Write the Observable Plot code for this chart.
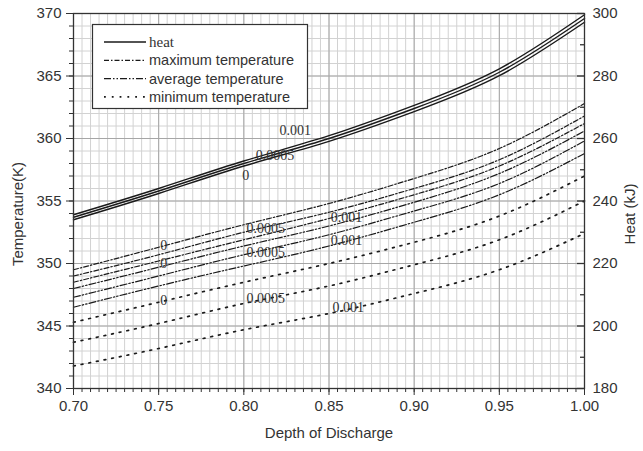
<!DOCTYPE html>
<html><head><meta charset="utf-8">
<script src="https://cdn.jsdelivr.net/npm/d3@7"></script>
<script src="https://cdn.jsdelivr.net/npm/@observablehq/plot@0.6"></script>
<style>
html,body{margin:0;padding:0;background:#fff;}
#chart{width:643px;height:451px;overflow:hidden;}
</style></head><body><div id="chart"></div>
<script>
// ---------- data ----------
const dod = [0.70, 0.75, 0.80, 0.85, 0.90, 0.95, 1.00];

// heat (kJ), one curve per coefficient
const heat0     = [234.0, 242.4, 251.2, 259.1, 268.6, 280.1, 297.2];
const heat0005  = [234.8, 243.2, 252.0, 260.0, 269.6, 281.2, 298.4];
const heat001   = [235.6, 244.0, 252.8, 260.9, 270.6, 282.3, 299.6];

// temperatures (K)
const maxT0     = [349.5, 351.3, 353.1, 354.8, 356.8, 359.2, 362.8];
const maxT0005  = [349.0, 350.7, 352.5, 354.1, 356.0, 358.3, 361.8];
const maxT001   = [348.5, 350.2, 351.9, 353.6, 355.5, 357.8, 361.2];
const avgT0     = [348.0, 349.7, 351.4, 353.0, 354.9, 357.2, 360.6];
const avgT0005  = [347.3, 349.0, 350.7, 352.3, 354.2, 356.4, 359.8];
const avgT001   = [346.5, 348.2, 349.8, 351.4, 353.3, 355.5, 358.8];
const minT0     = [345.3, 346.9, 348.5, 350.0, 351.7, 353.8, 357.0];
const minT0005  = [343.7, 345.2, 346.8, 348.2, 349.9, 351.9, 355.0];
const minT001   = [341.8, 343.2, 344.7, 346.0, 347.6, 349.5, 352.4];

// ticks
const xTicks = [0.70, 0.75, 0.80, 0.85, 0.90, 0.95, 1.00];
const tempTicks = [340, 345, 350, 355, 360, 365, 370];
const heatTicks = [180, 200, 220, 240, 260, 280, 300];
const heatMinorTicks = [190, 210, 230, 250, 270, 290];

// curve annotations (text, DoD, temperature)
const heatLabelText = ["0.001", "0.0005", "0"];
const heatLabelX    = [0.821, 0.807, 0.799];
const heatLabelY    = [360.6, 358.6, 357.0];
const tempLabelText = ["0", "0", "0", "0.0005", "0.0005", "0.0005", "0.001", "0.001", "0.001"];
const tempLabelX    = [0.751, 0.751, 0.751, 0.8016, 0.8016, 0.8016, 0.851, 0.851, 0.852];
const tempLabelY    = [351.4, 350.0, 347.0, 352.8, 350.9, 347.2, 353.7, 351.8, 346.5];

// ---------- build tables ----------
const heatToTemp = d3.scaleLinear().domain([180, 300]).range([340, 370]);
const rowsOf = (vals, param) => vals.map((v, i) => ({dod: dod[i], v, param}));
const heatRows = [...rowsOf(heat0, "0"), ...rowsOf(heat0005, "0.0005"), ...rowsOf(heat001, "0.001")];
const maxRows = [...rowsOf(maxT0, "0"), ...rowsOf(maxT0005, "0.0005"), ...rowsOf(maxT001, "0.001")];
const avgRows = [...rowsOf(avgT0, "0"), ...rowsOf(avgT0005, "0.0005"), ...rowsOf(avgT001, "0.001")];
const minRows = [...rowsOf(minT0, "0"), ...rowsOf(minT0005, "0.0005"), ...rowsOf(minT001, "0.001")];
const heatLabels = heatLabelText.map((t, i) => ({t, x: heatLabelX[i], y: heatLabelY[i]}));
const tempLabels = tempLabelText.map((t, i) => ({t, x: tempLabelX[i], y: tempLabelY[i]}));

const xMinor = d3.range(0, 61).map(i => 0.70 + i * 0.005);
const yMinor = d3.range(340, 371, 1);

const W = 643, H = 451, mL = 73, mR = 59, mT = 13, mB = 63;
const plotW = W - mL - mR;
const ink = "#1a1a1a";
const serif = "'Liberation Serif','Times New Roman',serif";
const sans = "'Liberation Sans',Arial,Helvetica,sans-serif";
const dashMax = "5,2,1.5,2";
const dashAvg = "7,2,1.5,2,1.5,2";
const dashMin = "1.8,6";
const crv = "natural";

const chart = Plot.plot({
  width: W, height: H,
  marginLeft: mL, marginRight: mR, marginTop: mT, marginBottom: mB,
  style: {fontFamily: sans, fontSize: "15px", color: "#333", background: "#fff", overflow: "visible"},
  x: {domain: [0.70, 1.00]},
  y: {domain: [340, 370]},
  marks: [
    Plot.ruleX(xMinor, {stroke: "#d2d2d2", strokeWidth: 1}),
    Plot.ruleY(yMinor, {stroke: "#d2d2d2", strokeWidth: 1}),
    Plot.ruleX(xTicks, {stroke: "#a6a6a6", strokeWidth: 1}),
    Plot.ruleY(tempTicks, {stroke: "#a6a6a6", strokeWidth: 1}),

    Plot.line(heatRows, {x: "dod", y: d => heatToTemp(d.v), z: "param", stroke: ink, strokeWidth: 1.4, curve: crv}),
    Plot.line(maxRows, {x: "dod", y: "v", z: "param", stroke: ink, strokeWidth: 1.2, strokeDasharray: dashMax, curve: crv}),
    Plot.line(avgRows, {x: "dod", y: "v", z: "param", stroke: ink, strokeWidth: 1.2, strokeDasharray: dashAvg, curve: crv}),
    Plot.line(minRows, {x: "dod", y: "v", z: "param", stroke: ink, strokeWidth: 1.7, strokeDasharray: dashMin, curve: crv}),

    Plot.text(heatLabels, {x: "x", y: "y", text: "t", textAnchor: "start", fontFamily: serif, fontSize: 14, fill: "#333"}),
    Plot.text(tempLabels, {x: "x", y: "y", text: "t", textAnchor: "start", fontFamily: serif, fontSize: 14, fill: "#333"}),

    Plot.frame({stroke: "#333", strokeWidth: 1.3}),

    Plot.axisX(xTicks, {tickSize: 7, tickPadding: 5, tickFormat: d3.format(".2f"), label: null, stroke: "#333", fill: "#333"}),
    Plot.axisX(xMinor, {tickSize: 4, tickFormat: () => "", label: null, stroke: "#333"}),
    Plot.axisY(tempTicks, {anchor: "left", tickSize: 7, tickPadding: 5, label: null, stroke: "#333", fill: "#333"}),
    Plot.axisY(yMinor, {anchor: "left", tickSize: 4, tickFormat: () => "", label: null, stroke: "#333"}),
    Plot.axisY(heatTicks.map(heatToTemp), {anchor: "right", tickSize: 0, tickPadding: 8, label: null, fill: "#333",
      tickFormat: t => String(Math.round(heatToTemp.invert(t)))}),
    Plot.tickY(heatTicks.map(heatToTemp), {y: d => d, insetLeft: plotW - 7, stroke: "#333", strokeWidth: 1.3}),
    Plot.tickY(heatMinorTicks.map(heatToTemp), {y: d => d, insetLeft: plotW - 4, stroke: "#333", strokeWidth: 1.3}),

    Plot.text(["Depth of Discharge"], {frameAnchor: "bottom", dy: 45, textAnchor: "middle", lineAnchor: "middle", fontSize: 15, fill: "#333"}),
    Plot.text(["Temperature(K)"], {frameAnchor: "left", dx: -55, dy: 13, rotate: -90, textAnchor: "middle", lineAnchor: "middle", fontSize: 15, fill: "#333"}),
    Plot.text(["Heat (kJ)"], {frameAnchor: "right", dx: 46, dy: 13, rotate: -90, textAnchor: "middle", lineAnchor: "middle", fontSize: 15, fill: "#333"})
  ]
});

document.getElementById("chart").appendChild(chart);

// ---------- legend (inside the frame, top-left) ----------
const svg = d3.select(chart);
const lg = svg.append("g").attr("text-anchor", "start");
lg.append("rect").attr("x", 92.5).attr("y", 24.5).attr("width", 215).attr("height", 84)
  .attr("fill", "#fff").attr("stroke", "#333").attr("stroke-width", 1.2);
const legendItems = [
  {label: "heat", dash: null, font: serif, size: 15},
  {label: "maximum temperature", dash: dashMax, font: sans, size: 14.5},
  {label: "average temperature", dash: dashAvg, font: sans, size: 14.5},
  {label: "minimum temperature", dash: dashMin, font: sans, size: 14.5}
];
legendItems.forEach((it, i) => {
  const y = 42 + i * 18.3;
  lg.append("line").attr("x1", 104).attr("x2", 146).attr("y1", y).attr("y2", y)
    .attr("stroke", ink).attr("stroke-width", it.dash === dashMin ? 1.7 : 1.3)
    .attr("stroke-dasharray", it.dash);
  lg.append("text").attr("x", 149).attr("y", y).attr("dy", "0.35em").attr("text-anchor", "start")
    .attr("font-family", it.font).attr("font-size", it.size).attr("fill", "#333").text(it.label);
});
</script>
</body></html>
